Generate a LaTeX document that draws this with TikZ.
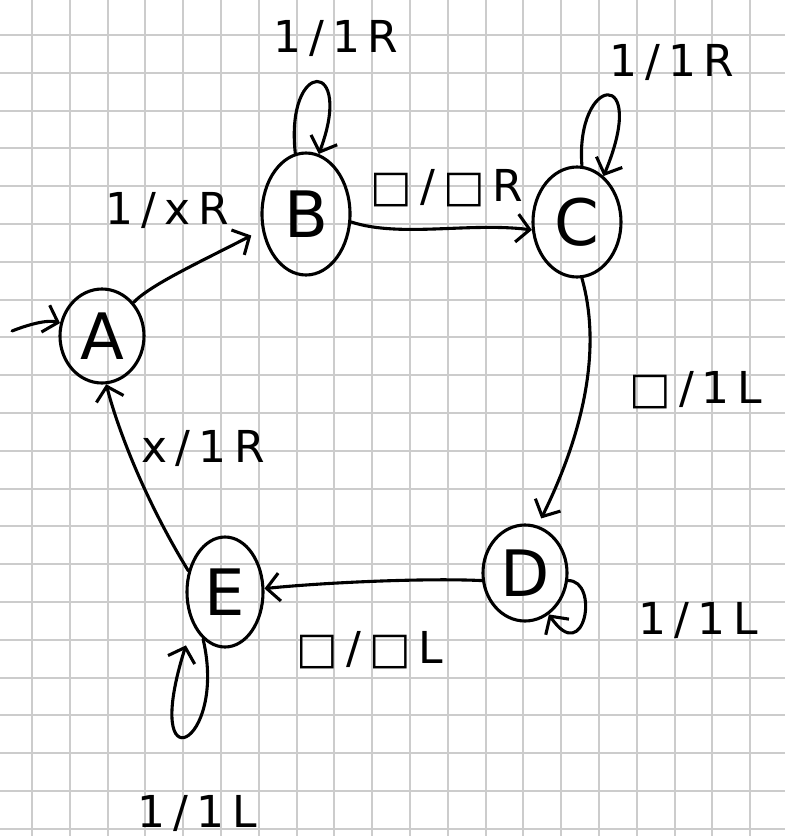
\documentclass[tikz,border=0pt]{standalone}
\usepackage{fontspec}
\setmainfont{DejaVu Sans}
\usetikzlibrary{arrows.meta,shapes.geometric}
\begin{document}
\begin{tikzpicture}[x=1pt,y=-1pt,
  ink/.style={line width=3.1pt, black, line cap=round, line join=round},
  state/.style={ink, draw, ellipse, inner sep=0pt, font=\fontsize{64}{64}\selectfont},
  edge/.style={ink, -{Straight Barb[length=13pt,width=28pt]}},
  lbl/.style={font=\fontsize{44}{44}\selectfont\addfontfeature{LetterSpace=18}, inner sep=0pt},
  gridline/.style={draw=black!20, line width=2pt}]

% paper and squared grid
\fill[white] (0,0) rectangle (785,836);
\useasboundingbox (0,0) rectangle (785,836);
\foreach \i in {0,...,19} \draw[gridline] ({32+37.8*\i},0) -- ({32+37.8*\i},836);
\foreach \j in {0,...,21} \draw[gridline] (0,{35+37.8*\j}) -- (785,{35+37.8*\j});

% states
\node[state, minimum width=84pt, minimum height=94pt]  (A) at (102,336) {A};
\node[state, minimum width=88pt, minimum height=122pt] (B) at (306,214) {B};
\node[state, minimum width=88pt, minimum height=110pt] (C) at (577,222) {C};
\node[state, minimum width=84pt, minimum height=96pt]  (D) at (525,573) {D};
\node[state, minimum width=76pt, minimum height=110pt] (E) at (225,592) {E};

% initial arrow
\coordinate (start) at (12,331);
\draw[edge] (start) .. controls (35,322) and (50,320) .. (A);

% transitions
\draw[edge, shorten >=12pt] (A) .. controls (150,285) and (200,262) .. (B.200);
\draw[edge] (B.-10) .. controls (400,238) and (470,222) .. (C.190);
\draw[edge, shorten >=8pt] (C.-85) .. controls (605,360) and (575,450) .. (D.75);
\draw[edge] (D.190) .. controls (430,578) and (330,582) .. (E.5);
\draw[edge] (E.150) .. controls (145,500) and (118,430) .. (A.-85);

% self loops
\draw[edge] (B.100) .. controls (285,58) and (355,58) .. (B.78);
\draw[edge] (C.85) .. controls (575,75) and (650,65) .. (C.60);
\draw[edge] (D.-10) .. controls (600,580) and (585,668) .. (D.-60);
\draw[edge, shorten >=22pt] (E.-115) .. controls (228,745) and (140,790) .. (E.-135);

% transition labels
\node[lbl] (lBB) at (336,38)  {1/1R};
\node[lbl] (lCC) at (672,62)  {1/1R};
\node[lbl] (lAB) at (167,210) {1/xR};
\node[lbl] (lBC) at (447,188) {□/□R};
\node[lbl] (lCD) at (696,390) {□/1L};
\node[lbl] (lDD) at (698,620) {1/1L};
\node[lbl] (lDE) at (370,650) {□/□L};
\node[lbl] (lEE) at (197,813) {1/1L};
\node[lbl] (lEA) at (203,448) {x/1R};
\end{tikzpicture}
\end{document}
